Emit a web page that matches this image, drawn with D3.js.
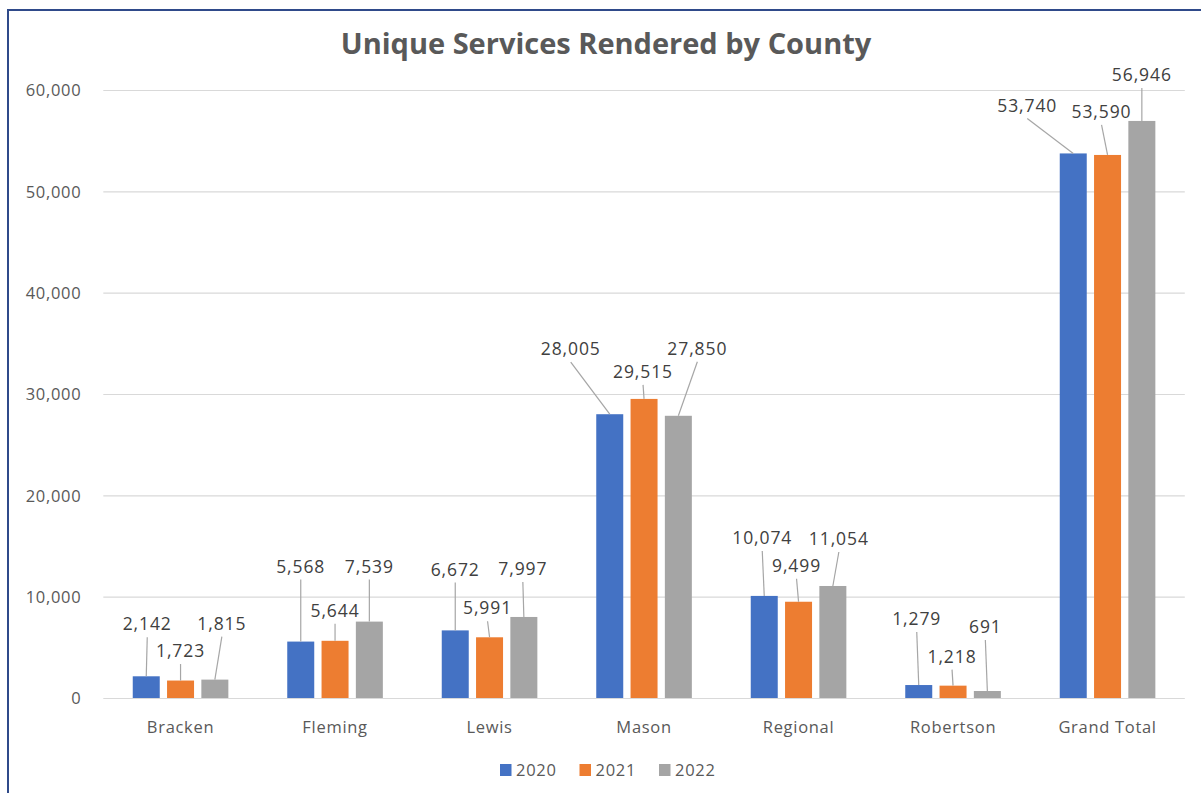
<!DOCTYPE html>
<html>
<head>
<meta charset="utf-8">
<script src="https://cdn.jsdelivr.net/npm/d3@7/dist/d3.min.js"></script>
<style>
  html, body { margin: 0; padding: 0; background: #fff; }
  svg { display: block; }
  text { font-family: "Open Sans", "Segoe UI", sans-serif; }
</style>
</head>
<body>
<svg id="chart" width="1201" height="793"></svg>
<script>
// ---- Data ----
const title = "Unique Services Rendered by County";
const categories = ["Bracken", "Fleming", "Lewis", "Mason", "Regional", "Robertson", "Grand Total"];
const years = ["2020", "2021", "2022"];
const values2020 = [2142, 5568, 6672, 28005, 10074, 1279, 53740];
const values2021 = [1723, 5644, 5991, 29515, 9499, 1218, 53590];
const values2022 = [1815, 7539, 7997, 27850, 11054, 691, 56946];
const yTicks = [0, 10000, 20000, 30000, 40000, 50000, 60000];

// ---- Layout / style (manually placed data label offsets in px, relative to bar top) ----
const colors = ["#4472C4", "#ED7D31", "#A5A5A5"];
const labelOffsets = [
  [[1, -52], [0, -29.5], [7, -56]],
  [[0, -75], [0, -30], [0, -55]],
  [[0, -61], [-2, -29], [-1, -48]],
  [[-39, -65], [-1, -27], [19, -67]],
  [[-2, -58], [-2, -36], [6, -47]],
  [[-2, -66], [-1, -29], [-2, -64]],
  [[-46, -48], [-6, -43], [0, -46]]
];

const seriesValues = [values2020, values2021, values2022];
const rows = categories.map((c, i) => ({
  category: c,
  values: years.map((yr, j) => ({ year: yr, value: seriesValues[j][i], j, i }))
}));

const svg = d3.select("#chart");
const W = 1201, H = 793;

// Border (chart area frame, cut off at right/bottom)
svg.append("rect").attr("x", 0).attr("y", 0).attr("width", W).attr("height", H).attr("fill", "#fff");
svg.append("line").attr("x1", 7).attr("x2", W).attr("y1", 10).attr("y2", 10)
  .attr("stroke", "#2F4A8A").attr("stroke-width", 2);
svg.append("line").attr("x1", 8).attr("x2", 8).attr("y1", 9).attr("y2", H)
  .attr("stroke", "#2F4A8A").attr("stroke-width", 2);

// Scales
const x0 = d3.scaleBand().domain(categories).range([103.3, 1184.8]).paddingInner(0).paddingOuter(0);
const groupW = 95.6;
const x1 = d3.scaleBand().domain(years)
  .range([(x0.bandwidth() - groupW) / 2, (x0.bandwidth() + groupW) / 2])
  .paddingInner(0.213).paddingOuter(0);
const y = d3.scaleLinear().domain([0, 60000]).range([698, 90]);

// Gridlines
const yAxis = d3.axisLeft(y).tickValues(yTicks).tickSize(-(1184.8 - 103.3)).tickPadding(22)
  .tickFormat(d3.format(","));
const gy = svg.append("g").attr("transform", "translate(103.3,0)").call(yAxis);
gy.select(".domain").remove();
gy.selectAll(".tick line").attr("stroke", "#d9d9d9").attr("stroke-width", 1.2);
gy.selectAll(".tick text").attr("fill", "#595959").style("font-size", "16.5px")
  .style("letter-spacing", "0.7px").attr("dy", "0.35em");

// Bars
const groups = svg.append("g").selectAll("g").data(rows).join("g")
  .attr("transform", d => `translate(${x0(d.category)},0)`);
groups.selectAll("rect").data(d => d.values).join("rect")
  .attr("x", d => x1(d.year))
  .attr("width", x1.bandwidth())
  .attr("y", d => y(d.value))
  .attr("height", d => y(0) - y(d.value))
  .attr("fill", d => colors[d.j]);

// Leader lines and data labels
const labels = svg.append("g");
rows.forEach((r, i) => {
  r.values.forEach(d => {
    const bx = x0(r.category) + x1(d.year) + x1.bandwidth() / 2;
    const by = y(d.value);
    const [dx, dy] = labelOffsets[i][d.j];
    const lx = bx + dx, ly = by + dy;
    labels.append("line")
      .attr("x1", lx).attr("y1", ly + 13)
      .attr("x2", bx).attr("y2", by)
      .attr("stroke", "#a6a6a6").attr("stroke-width", 1.2);
    labels.append("text")
      .attr("x", lx).attr("y", ly).attr("dy", "0.35em")
      .attr("text-anchor", "middle")
      .attr("fill", "#404040")
      .style("font-size", "17.5px")
      .style("letter-spacing", "0.9px")
      .text(d3.format(",")(d.value));
  });
});

// X axis category labels
const xAxis = d3.axisBottom(x0).tickSize(0).tickPadding(0);
const gx = svg.append("g").attr("transform", "translate(0,727)").call(xAxis);
gx.select(".domain").remove();
gx.selectAll(".tick text").attr("fill", "#595959").style("font-size", "16.5px")
  .style("letter-spacing", "0.7px").attr("dy", "0.35em").attr("y", 0);

// Title
svg.append("text").attr("x", 606).attr("y", 44).attr("dy", "0.35em")
  .attr("text-anchor", "middle").attr("fill", "#595959")
  .style("font-size", "29px").style("font-weight", "bold")
  .text(title);

// Legend
const legend = svg.append("g").attr("transform", "translate(500,770)");
const li = legend.selectAll("g").data(years).join("g")
  .attr("transform", (d, k) => `translate(${k * 79.5},0)`);
li.append("rect").attr("x", 0).attr("y", -6).attr("width", 11.5).attr("height", 12)
  .attr("fill", (d, k) => colors[k]);
li.append("text").attr("x", 16).attr("y", 0).attr("dy", "0.35em")
  .attr("fill", "#595959").style("font-size", "16.5px").style("letter-spacing", "0.7px")
  .text(d => d);
</script>
</body>
</html>
